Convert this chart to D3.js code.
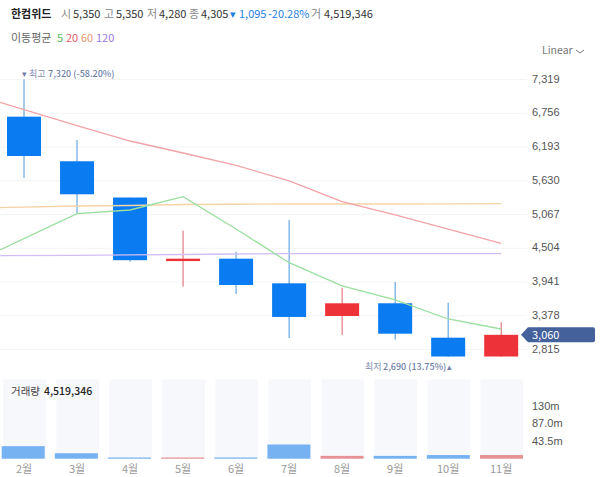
<!DOCTYPE html>
<html>
<head>
<meta charset="utf-8">
<script src="https://cdn.jsdelivr.net/npm/d3@7"></script>
<style>
html,body{margin:0;padding:0;background:#fff;}
svg{display:block;font-family:"Noto Sans CJK KR","Noto Sans",sans-serif;}
</style>
</head>
<body>
<svg id="chart" width="600" height="477"></svg>
<script>
var months = ['2월','3월','4월','5월','6월','7월','8월','9월','10월','11월'];
var opens  = [6699,5955,5350,4290,4330,3919,3374,3586,3012,2695];
var closes = [6043,5404,4305,4330,3891,3358,3586,3079,2695,3060];
var highs  = [7320,6310,5350,4797,4447,4975,3846,3941,3596,3269];
var lows   = [5676,5081,4280,3863,3741,3007,3057,2979,2690,2690];
var volumes = [31,13.5,3,3,3,35,7,7,9,9];
var ma5 = [5081,5142,5364,4825,4263,3875,3641,3324,3157];
var ma5Start = 4475;
var ma20 = [6548,6293,6093,5888,5626,5281,5059,4825,4587];
var ma20Start = 6939;
var ma60 = [5209,5217,5234,5238,5242,5242,5242,5245,5247];
var ma60Start = 5181;
var ma120 = [4385,4392,4400,4408,4413,4413,4413,4413,4413];
var ma120Start = 4380;
var yTicks = [7319,6756,6193,5630,5067,4504,3941,3378,2815];
var volTicks = [130,87,43.5];
var volLabels = ['130m','87.0m','43.5m'];

var svg = d3.select('#chart');
var blue = '#0a7bf0', red = '#ee323a';

var x = d3.scaleBand().domain(months).range([-2.5, 527.7]).padding(0);
var xVol = d3.scaleBand().domain(months).range([1.7, 533.1]).padding(0);
var y = d3.scaleLinear().domain([2815, 7319]).range([349.5, 79.5]);
var vol = d3.scaleLinear().domain([0, 130]).range([458.7, 406]);
var cx = function(m) { return x(m) + x.bandwidth() / 2; };
var isUp = function(i) { return closes[i] >= opens[i]; };

// grid
svg.append('g').selectAll('line').data(yTicks).enter().append('line')
  .attr('x1', 0).attr('x2', 527)
  .attr('y1', function(d) { return y(d); })
  .attr('y2', function(d) { return y(d); })
  .attr('stroke', '#f3f4f6').attr('stroke-width', 1);

// y axis
var yAxis = d3.axisRight(y).tickValues(yTicks).tickSize(0).tickPadding(0)
  .tickFormat(d3.format(','));
var yG = svg.append('g').attr('transform', 'translate(532,-1)').call(yAxis);
yG.select('.domain').remove();
yG.selectAll('text').attr('fill', '#555').style('font-size', '11px');

// candles clipped to the price pane
svg.append('clipPath').attr('id', 'pane').append('rect')
  .attr('x', 0).attr('y', 60).attr('width', 527).attr('height', 296.8);
var pane = svg.append('g').attr('clip-path', 'url(#pane)');

pane.selectAll('line.wick').data(months).enter().append('line').attr('class', 'wick')
  .attr('x1', function(d) { return cx(d); })
  .attr('x2', function(d) { return cx(d); })
  .attr('y1', function(d, i) { return y(highs[i]); })
  .attr('y2', function(d, i) { return y(lows[i]); })
  .attr('stroke', function(d, i) { return isUp(i) ? '#e0606a' : '#4a96dc'; })
  .attr('stroke-width', 1);
pane.selectAll('rect.body').data(months).enter().append('rect').attr('class', 'body')
  .attr('x', function(d) { return cx(d) - 17; })
  .attr('width', 34)
  .attr('y', function(d, i) { return y(Math.max(opens[i], closes[i])); })
  .attr('height', function(d, i) { return Math.abs(y(opens[i]) - y(closes[i])); })
  .attr('fill', function(d, i) { return isUp(i) ? red : blue; });

// moving averages, first point sits on the left edge of the pane
function drawMa(start, vals, stroke) {
  var pts = [[0, y(start)]].concat(vals.map(function(v, i) { return [cx(months[i + 1]), y(v)]; }));
  pane.append('path').attr('d', d3.line()(pts))
    .attr('fill', 'none').attr('stroke', stroke).attr('stroke-width', 1.3);
}
drawMa(ma120Start, ma120, '#d2bdf4');
drawMa(ma60Start, ma60, '#f6d3a6');
drawMa(ma20Start, ma20, '#f2a3a8');
drawMa(ma5Start, ma5, '#9adf9f');

// volume pane
var volG = svg.append('g');
volG.selectAll('rect.bg').data(months).enter().append('rect').attr('class', 'bg')
  .attr('x', function(d) { return x(d) + 5.8; })
  .attr('width', 42.7).attr('y', 379.5).attr('height', 79.2)
  .attr('fill', '#f6f8fb');
volG.selectAll('rect.bar').data(months).enter().append('rect').attr('class', 'bar')
  .attr('x', function(d) { return xVol(d); })
  .attr('width', 43)
  .attr('y', function(d, i) { return vol(volumes[i]); })
  .attr('height', function(d, i) { return vol(0) - vol(volumes[i]); })
  .attr('fill', function(d, i) { return isUp(i) ? '#e79095' : '#76b2f2'; });

var vAxis = d3.axisRight(vol).tickValues(volTicks).tickSize(0).tickPadding(0)
  .tickFormat(function(d, i) { return volLabels[i]; });
var vG = svg.append('g').attr('transform', 'translate(532,0)').call(vAxis);
vG.select('.domain').remove();
vG.selectAll('text').attr('fill', '#555').style('font-size', '11px');

// month labels
svg.append('g').selectAll('text').data(months).enter().append('text')
  .attr('x', function(d) { return cx(d); })
  .attr('y', 473).attr('text-anchor', 'middle')
  .attr('fill', '#999').style('font-size', '11px').text(function(d) { return d; });

// header, [text, colour, x, weight]
function spans(yPos, size, parts) {
  var t = svg.append('text').attr('y', yPos).style('font-size', size + 'px');
  parts.forEach(function(p) {
    t.append('tspan').attr('x', p[2]).attr('fill', p[1]).attr('font-weight', p[3] || 400).text(p[0]);
  });
}
spans(18, 11, [['한컴위드', '#222', 11, 700],
  ['시', '#888', 61], ['5,350', '#333', 73], ['고', '#888', 104], ['5,350', '#333', 116],
  ['저', '#888', 147], ['4,280', '#333', 159], ['종', '#888', 189], ['4,305', '#333', 201],
  ['▾', '#1f7fe0', 230], ['1,095', '#1f7fe0', 239], ['-20.28%', '#1f7fe0', 268],
  ['거', '#888', 311], ['4,519,346', '#333', 324]]);
spans(42, 11, [['이동평균', '#666', 11], ['5', '#55b95a', 57], ['20', '#e8606a', 66],
  ['60', '#e89a70', 81], ['120', '#9a78e0', 96]]);
spans(54, 10.5, [['Linear', '#777', 542]]);
svg.append('path').attr('d', 'M576 50l4 3 4-3').attr('fill', 'none').attr('stroke', '#777');

// high and low markers
spans(77, 9, [['▾', '#6f7fa8', 22], ['최고', '#7f8db0', 29], ['7,320 (-58.20%)', '#6f7fa8', 48, 500]]);
spans(370, 9, [['최저', '#7f8db0', 365], ['2,690 (13.75%)', '#6f7fa8', 383, 500], ['▴', '#6f7fa8', 447]]);
spans(395, 10.5, [['거래량', '#444', 11], ['4,519,346', '#222', 44, 500]]);

// current price tag
var cy = y(closes[9]);
svg.append('path')
  .attr('d', 'M521 ' + cy + 'l7-7.5h65a2 2 0 0 1 2 2v11a2 2 0 0 1-2 2h-65z')
  .attr('fill', '#44619c');
svg.append('text').attr('x', 532).attr('y', cy + 4).attr('fill', '#fff').style('font-size', '11px')
  .text(d3.format(',')(closes[9]));
</script>
</body>
</html>
